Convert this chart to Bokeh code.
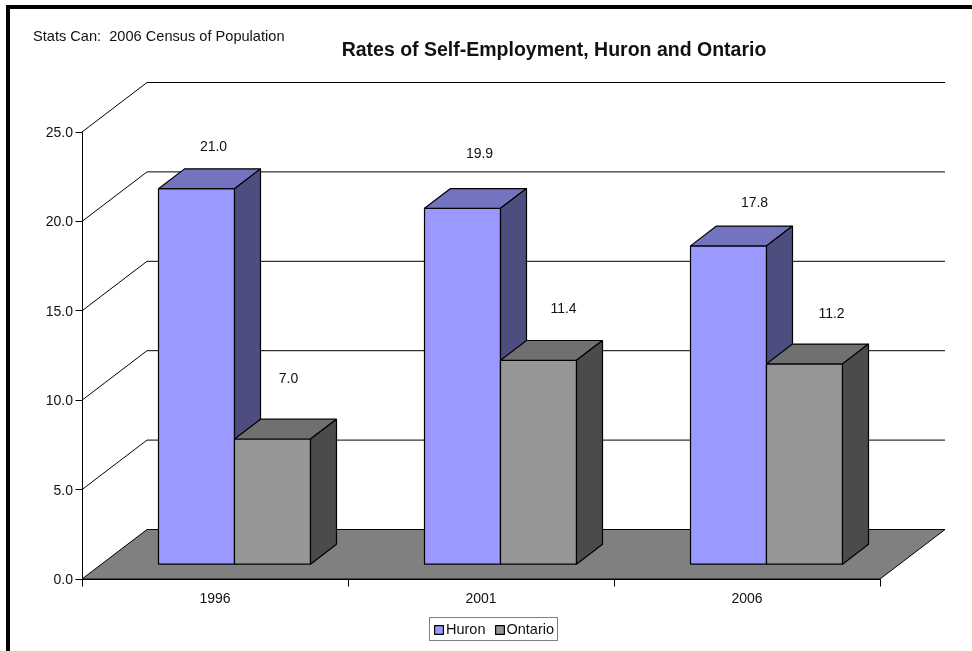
from bokeh.plotting import figure
from bokeh.models import (ColumnDataSource, Range1d, LinearAxis, FixedTicker, Label, Legend, LegendItem)
from bokeh.core.properties import value
from bokeh.embed import file_html
from bokeh.resources import INLINE

# ---- data
categories = ["1996", "2001", "2006"]
huron = [21.0, 19.9, 17.8]
ontario = [7.0, 11.4, 11.2]
value_ticks = [0, 5, 10, 15, 20, 25]
title_text = "Rates of Self-Employment, Huron and Ontario"
source_text = "Stats Can:\u00a0 2006 Census of Population"

# ---- layout (pixels)
CW, CH = 962, 642
ORG_X, ORG_Y = 10, 9           # page position of canvas
ZERO_X, ZERO_Y = 71.5, 569.5   # canvas position of the axes' origin
PX_PER_CAT = 266.0
PX_PER_VAL = 17.88
WALL_DX = 65.0 / PX_PER_CAT    # depth vector of whole floor, data units
WALL_DY = 49.5 / PX_PER_VAL
BAR_W = 1 / 3.5
SIDE_GAP = 0.75 / 3.5
DEPTH_FRONT, DEPTH_BACK = 0.3, 0.7
FONT = "Liberation Sans"
FS = "14px"

C_H = ("#9999FF", "#7373BF", "#4D4D80")
C_O = ("#969696", "#707070", "#4B4B4B")
FLOOR = "#808080"

# label offsets: pixels relative to the bar's mid-depth top
LABEL_DY_H = [33, 45, 34]
LABEL_DY_O = [51, 42, 41]
LABEL_DX_H = [4, 4, 13]
LABEL_DX_O = [3, 12, 14]

p = figure(width=CW, height=CH, output_backend="svg", toolbar_location=None,
           x_range=Range1d(-ZERO_X / PX_PER_CAT, (CW - ZERO_X) / PX_PER_CAT),
           y_range=Range1d(-(CH - ZERO_Y) / PX_PER_VAL, ZERO_Y / PX_PER_VAL),
           min_border_left=0, min_border_right=0, min_border_top=0, min_border_bottom=0,
           x_axis_type=None, y_axis_type=None, outline_line_color=None, background_fill_color="white",
           border_fill_color="white")
p.grid.visible = False
p.styles = {"position": "fixed", "left": f"{ORG_X}px", "top": f"{ORG_Y}px",
            "box-shadow": "-2px -2px 0 2px #000"}

n = len(categories)

# floor
p.patch([0, n, n + WALL_DX, WALL_DX], [0, 0, WALL_DY, WALL_DY],
        fill_color=FLOOR, line_color="black", line_width=1)

# walls
for v in value_ticks[1:]:
    p.line([0, WALL_DX, n + WALL_DX], [v, v + WALL_DY, v + WALL_DY], line_color="black", line_width=1)


def bar(x0, h, colors):
    xf0 = x0 + WALL_DX * DEPTH_FRONT
    xf1 = xf0 + BAR_W
    yb = WALL_DY * DEPTH_FRONT
    ddx = WALL_DX * (DEPTH_BACK - DEPTH_FRONT)
    ddy = WALL_DY * (DEPTH_BACK - DEPTH_FRONT)
    kw = dict(line_color="black", line_width=1.2)
    r = p.patch([xf0, xf1, xf1, xf0], [yb, yb, yb + h, yb + h], fill_color=colors[0], **kw)
    p.patch([xf0, xf1, xf1 + ddx, xf0 + ddx], [yb + h, yb + h, yb + h + ddy, yb + h + ddy], fill_color=colors[1], **kw)
    p.patch([xf1, xf1 + ddx, xf1 + ddx, xf1], [yb, yb + ddy, yb + h + ddy, yb + h], fill_color=colors[2], **kw)
    return r


r_h = r_o = None
lx, ly, lt = [], [], []
mid = (DEPTH_FRONT + DEPTH_BACK) / 2
for i in range(n):
    x_h = i + SIDE_GAP
    x_o = x_h + BAR_W
    r_h = bar(x_h, huron[i], C_H)
    r_o = bar(x_o, ontario[i], C_O)
    for x0, v, dx, dy in ((x_h, huron[i], LABEL_DX_H[i], LABEL_DY_H[i]), (x_o, ontario[i], LABEL_DX_O[i], LABEL_DY_O[i])):
        lx.append(x0 + BAR_W / 2 + WALL_DX * mid + dx / PX_PER_CAT)
        ly.append(v + WALL_DY * mid + dy / PX_PER_VAL)
        lt.append(f"{v:.1f}")

p.text(x="x", y="y", text="t", source=ColumnDataSource(dict(x=lx, y=ly, t=lt)),
       text_font=value(FONT), text_font_size=FS, text_color="#111111",
       text_align="center", text_baseline="middle")

# axes (pinned at the origin so the plotting frame can fill the whole canvas)
ya = LinearAxis(fixed_location=0, bounds=(0, 25), ticker=FixedTicker(ticks=value_ticks),
                major_label_overrides={v: f"{v:.1f}" for v in value_ticks},
                major_tick_out=7, major_tick_in=0, minor_tick_out=0, minor_tick_in=0,
                major_label_standoff=2, major_label_text_font=FONT, major_label_text_font_size=FS,
                major_label_text_color="#111111", axis_line_color="black", major_tick_line_color="black")
p.add_layout(ya, "left")

centers = [i + 0.5 for i in range(n)]
xa = LinearAxis(fixed_location=0, bounds=(0, n), ticker=FixedTicker(ticks=centers, minor_ticks=list(range(n + 1))),
                major_label_overrides=dict(zip(centers, categories)),
                major_tick_out=0, major_tick_in=0, minor_tick_out=7, minor_tick_in=0,
                major_label_standoff=7, major_label_text_font=FONT, major_label_text_font_size=FS,
                major_label_text_color="#111111", axis_line_color="black", minor_tick_line_color="black")
p.add_layout(xa, "below")


def lab(txt, px, py, size, style="normal", align="center"):
    # screen units are measured from the frame's bottom-left corner
    p.add_layout(Label(x=px - ORG_X, y=(ORG_Y + CH) - py, x_units="screen", y_units="screen", text=txt,
                       text_font=FONT, text_font_size=size, text_font_style=style,
                       text_align=align, text_baseline="middle", text_color="#111111"))


lab(title_text, 553.5, 48.5, "19.5px", "bold")
lab(source_text, 32.5, 35, "14.6px", "normal", "left")

# legend
leg = Legend(items=[LegendItem(label="Huron", renderers=[r_h]), LegendItem(label="Ontario", renderers=[r_o])],
             orientation="horizontal", location=(429 - ORG_X, ORG_Y + CH - 641),
             label_text_font=FONT, label_text_font_size="14.5px", label_text_color="#111111",
             label_text_line_height=1.0,
             glyph_width=11, glyph_height=11, label_standoff=2, spacing=8, padding=3, margin=0,
             border_line_color="black", border_line_width=1, background_fill_color="white",
             background_fill_alpha=1, label_height=12)
p.add_layout(leg, "center")

open("out.html", "w").write(file_html(p, INLINE))
